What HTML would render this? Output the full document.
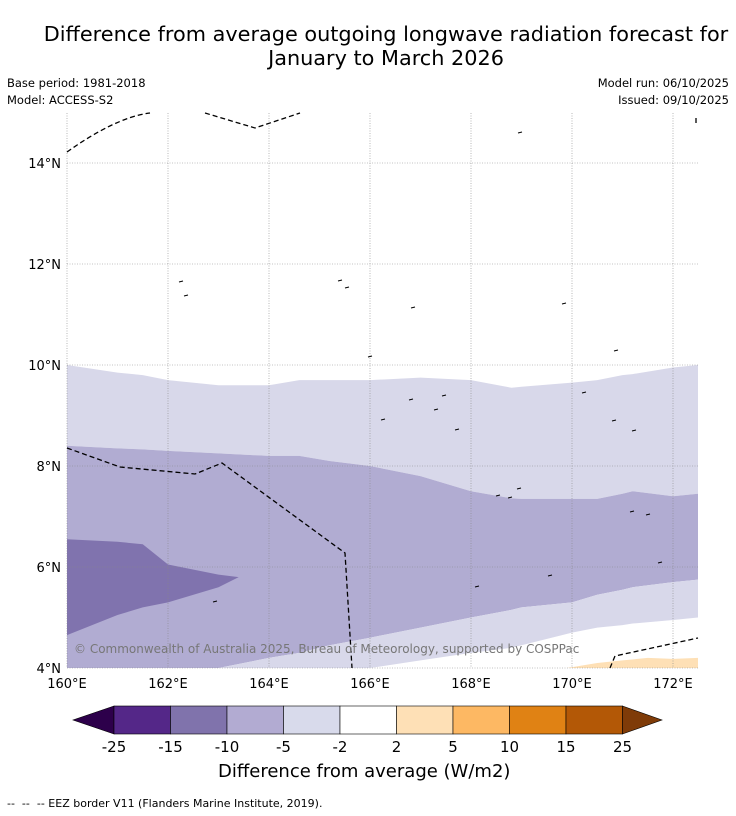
<!DOCTYPE html>
<html><head><meta charset="utf-8"><style>
body{margin:0;background:#fff;font-family:"DejaVu Sans","Liberation Sans",sans-serif;}
#wrap{position:relative;width:736px;height:816px;background:#fff;overflow:hidden}
.t{position:absolute;color:#000}
</style></head><body>
<div id="wrap">
<div class="t" style="left:0;width:772px;top:23px;text-align:center;font-size:20.8px;line-height:23.5px">Difference from average outgoing longwave radiation forecast for<br>January to March 2026</div>
<div class="t" style="left:7px;top:76px;font-size:11.5px">Base period: 1981-2018</div>
<div class="t" style="left:7px;top:93px;font-size:11.5px">Model: ACCESS-S2</div>
<div class="t" style="right:7px;top:76px;font-size:11.5px;text-align:right">Model run: 06/10/2025</div>
<div class="t" style="right:7px;top:93px;font-size:11.5px;text-align:right">Issued: 09/10/2025</div>
<svg id="map" width="736" height="816" style="position:absolute;left:0;top:0"></svg>
<div class="t" style="left:218px;top:761px;font-size:18px">Difference from average (W/m2)</div>
<div class="t" style="left:7px;top:797px;font-size:11px">--&nbsp; --&nbsp; -- EEZ border V11 (Flanders Marine Institute, 2019).</div>
</div>
<script>
const lons=[160,161,161.5,162,163,164,164.6,165.2,166,167,168,168.8,169,170,170.5,171,171.2,172,172.5];
const bnd2=[10.0,9.85,9.8,9.7,9.6,9.6,9.7,9.7,9.7,9.75,9.7,9.55,9.57,9.65,9.7,9.8,9.82,9.95,10.0];
const bnd5=[8.4,8.35,8.33,8.3,8.25,8.2,8.2,8.1,8.0,7.8,7.5,7.36,7.35,7.35,7.35,7.45,7.5,7.4,7.45];
const bnd5lo=[3.0,3.3,3.5,3.7,4.0,4.2,4.3,4.45,4.6,4.8,5.0,5.15,5.2,5.3,5.45,5.55,5.6,5.7,5.75];
const bnd2lo=[2.0,2.5,2.8,3.0,3.4,3.7,3.85,3.95,4.0,4.15,4.3,4.4,4.45,4.7,4.8,4.85,4.88,4.95,5.0];
const blobLon=[160,161,161.5,162,163,163.4];
const blobTop=[6.55,6.5,6.45,6.05,5.85,5.8];
const blobBot=[4.65,5.05,5.2,5.3,5.6,5.8];
const orangeLon=[169.9,170.5,171,171.5,172,172.5];
const orangeLat=[4.0,4.1,4.15,4.2,4.18,4.2];
const xTicks=[160,162,164,166,168,170,172];
const yTicks=[4,6,8,10,12,14];
const cbLabels=["-25","-15","-10","-5","-2","2","5","10","15","25"];
const cbColors=["#542788","#8073ac","#b2abd2","#d8daeb","#ffffff","#fee0b6","#fdb863","#e08214","#b35806"];
const X0=67,X1=698,Y0=113,Y1=668;
const x=lon=>67+(lon-160)*50.5;
const y=lat=>668-(lat-4)*50.5;
const NS='http://www.w3.org/2000/svg';
const svg=document.getElementById('map');
function el(t,a,p){const e=document.createElementNS(NS,t);for(const k in a)e.setAttribute(k,a[k]);(p||svg).appendChild(e);return e;}
const defs=el('defs',{});const cp=el('clipPath',{id:'c'},defs);el('rect',{x:X0,y:Y0,width:X1-X0,height:Y1-Y0},cp);
const g=el('g',{'clip-path':'url(#c)'});
function band(ls,top,bot,fill,name){
 let d='M'+ls.map((l,i)=>x(l)+','+y(top[i])).join('L');
 for(let i=ls.length-1;i>=0;i--)d+='L'+x(ls[i])+','+y(bot[i]);
 const p=el('path',{d:d+'Z',fill:fill},g);
 
 
}
band(lons,bnd2,bnd5,'#d8d8ea','contour-minus2-to-minus5');
band(lons,bnd5,bnd5lo,'#b1acd2','contour-minus5-to-minus10');
band(lons,bnd5lo,bnd2lo,'#d8d8ea','contour-minus2-to-minus5-south');
band(blobLon,blobTop,blobBot,'#8073ae','contour-minus10-to-minus15');
band(orangeLon,orangeLat,orangeLat.map(()=>3.5),'#fee0b6','contour-2-to-5');
xTicks.forEach(v=>{const l=el('line',{x1:x(v),x2:x(v),y1:Y0,y2:Y1,stroke:'#888','stroke-width':0.6,'stroke-dasharray':'1,1.5'});

const t=el('text',{x:x(v),y:688,'font-size':13,'text-anchor':'middle'});t.textContent=v+'°E';
});
yTicks.forEach(v=>{const l=el('line',{x1:X0,x2:X1,y1:y(v),y2:y(v),stroke:'#888','stroke-width':0.6,'stroke-dasharray':'1,1.5'});

const t=el('text',{x:61,y:y(v)+5,'font-size':13,'text-anchor':'end'});t.textContent=v+'°N';
});
[["M67,152 C95,132 125,116 150,113","M205,113 L255,128 L300,113"],
 ["M67,448 L120,467 L195,474 L222,463 L345,553 L352,668"],
 ["M610,668 L615,656 L698,638"],["M696,118 L696,125"]].forEach(ds=>ds.forEach(d=>{
 const p=el('path',{d:d,fill:'none',stroke:'#000','stroke-width':1.3,'stroke-dasharray':'5,3'});
 }));
[[181,282],[186,296],[340,281],[347,288],[413,308],[564,304],[520,133],[370,357],[616,351],[436,410],[550,576],[215,602],[648,515],[660,563],[477,587],[632,512],[444,396],[411,400],[457,430],[383,420],[584,393],[614,421],[634,431],[498,496],[510,498],[519,489]].forEach(([a,b])=>{
 const c=el('path',{d:`M${a-2},${b} l4,-1`,stroke:'#000','stroke-width':1,fill:'none'});
 });
const cr=el('text',{x:74,y:653,'font-size':12,fill:'#777'});cr.textContent='© Commonwealth of Australia 2025, Bureau of Meteorology, supported by COSPPac';

const bx0=114,bw=56.5,by=706,bh=28;
const lt=el('path',{d:`M${bx0},${by} L73,${by+bh/2} L${bx0},${by+bh}Z`,fill:'#2d004b',stroke:'#000','stroke-width':0.6});

cbColors.forEach((c,i)=>{const r=el('rect',{x:bx0+i*bw,y:by,width:bw,height:bh,fill:c,stroke:'#000','stroke-width':0.6});
});
const rx=bx0+cbColors.length*bw;
const rt=el('path',{d:`M${rx},${by} L662,${by+bh/2} L${rx},${by+bh}Z`,fill:'#7f3b08',stroke:'#000','stroke-width':0.6});

cbLabels.forEach((s,i)=>{const t=el('text',{x:bx0+i*bw,y:752,'font-size':15,'text-anchor':'middle'});t.textContent=s;
});
</script>
</body></html>
